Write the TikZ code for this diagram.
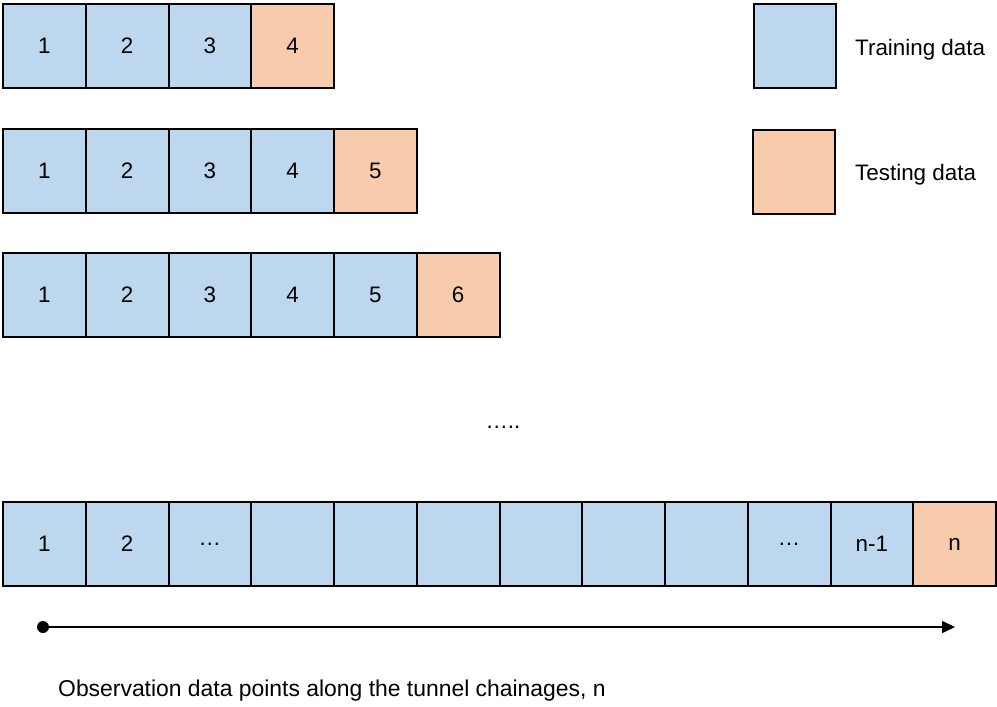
\documentclass[tikz,border=0pt]{standalone}
\usepackage{fontspec}
\setmainfont{Liberation Sans}
\usetikzlibrary{arrows.meta, positioning}
\definecolor{train}{RGB}{189, 215, 238}
\definecolor{test}{RGB}{248, 203, 173}

\begin{document}
\begin{tikzpicture}[x=1pt, y=-1pt,
   font=\fontsize{22.4}{26}\selectfont,
   trainbox/.style={rectangle, draw=black, fill=train, line width=2,
                    minimum width=82.75, minimum height=84, inner sep=0, outer sep=0},
   testbox/.style={trainbox, fill=test},
   legtext/.style={anchor=base west, inner sep=0}
  ]
  \useasboundingbox (0, 0) rectangle (997, 707);

  % growing windows
  \foreach \R/\Y/\M/\N in {A/46/3/4, B/170.5/4/5, C/294.5/5/6} {
    \node (\R1) at (44.375, \Y) [trainbox] {1};
    \foreach \j [count=\i] in {2,...,\M}
      \node (\R\j) [trainbox, right=0 of \R\i] {\j};
    \node (\R\N) [testbox, right=0 of \R\M] {\N};
  }

  \node (gap) at (503, 427) {…..};

  % full series
  \node (D1) at (44.375, 544) [trainbox] {1};
  \foreach \t [count=\i, evaluate=\i as \j using int(\i+1)] in {2, …, {}, {}, {}, {}, {}, {}, …, n-1}
    \node (D\j) [trainbox, right=0 of D\i] {\t};
  \node (D12) [testbox, right=0 of D11] {n};

  % legend
  \node (train) at (795, 46) [trainbox] {};
  \node (test) at (794, 171.5) [testbox] {};
  \node (traintext) [legtext] at (855, 55) {Training data};
  \node (testtext) [legtext] at (855, 180) {Testing data};

  % axis
  \node (start) at (43, 627) [circle, fill=black, minimum size=12, inner sep=0] {};
  \coordinate (stop) at (955, 627);
  \draw[-{Triangle[length=13, width=12]}, line width=1.6] (start) -- (stop);

  \node (caption) [legtext, font=\fontsize{22.9}{26}\selectfont] at (58, 696)
    {Observation data points along the tunnel chainages, n};

\end{tikzpicture}
\end{document}
